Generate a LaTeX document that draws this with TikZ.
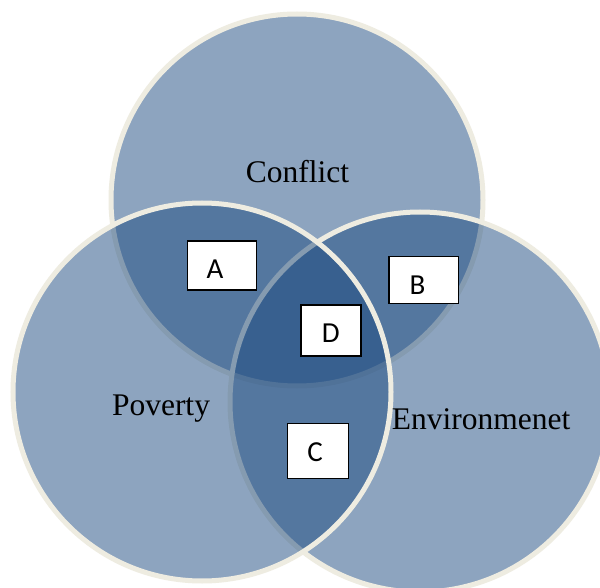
\documentclass[tikz,border=0pt]{standalone}
\usepackage{fontspec}
\setmainfont{Liberation Serif}
\newfontfamily\boxfont{Carlito}

\definecolor{setblue}{RGB}{29,75,129}
\definecolor{setrim}{RGB}{238,236,225}

\tikzset{
  vennset/.style={fill=setblue, fill opacity=0.5, draw=setrim, line width=5pt},
  setlabel/.style={font=\fontsize{31.5}{36}\selectfont, anchor=base, inner sep=0pt},
  letterbox/.style={draw=black, fill=white, line width=1.5pt, inner sep=0pt,
    font=\boxfont\fontsize{29}{33}\selectfont, text depth=0pt}
}

\begin{document}
\begin{tikzpicture}[x=1pt,y=-1pt]

	\clip (0,0) rectangle (600,588);
	\fill[white] (0,0) rectangle (600,588);

	% the three sets
	\coordinate (conflict) at (297,200);
	\coordinate (environment) at (420,402);
	\coordinate (poverty) at (202,392);
	\draw[vennset] (conflict) circle (186pt);
	\draw[vennset] (environment) circle (190pt);
	\draw[vennset] (poverty) circle (189pt);

	% set names
	\node[setlabel] (conflictname) at (297.5,182.3) {Conflict};
	\node[setlabel] (povertyname) at (161,415) {Poverty};
	\node[setlabel] (environmentname) at (481.2,429) {Environmenet};

	% overlap boxes
	\node[letterbox, minimum width=69pt, minimum height=49pt, text height=27pt] (A) at (221.8,265.3) {A\hspace*{13.6pt}};
	\node[letterbox, minimum width=69.5pt, minimum height=46.5pt, text height=29.2pt] (B) at (423.5,280) {B\hspace*{12pt}};
	\node[letterbox, minimum width=60pt, minimum height=51pt, text height=24.6pt] (D) at (330.8,330.3) {D};
	\node[letterbox, minimum width=61pt, minimum height=55pt, text height=21.9pt] (C) at (317.8,450.8) {C\hspace*{5.6pt}};

\end{tikzpicture}
\end{document}
